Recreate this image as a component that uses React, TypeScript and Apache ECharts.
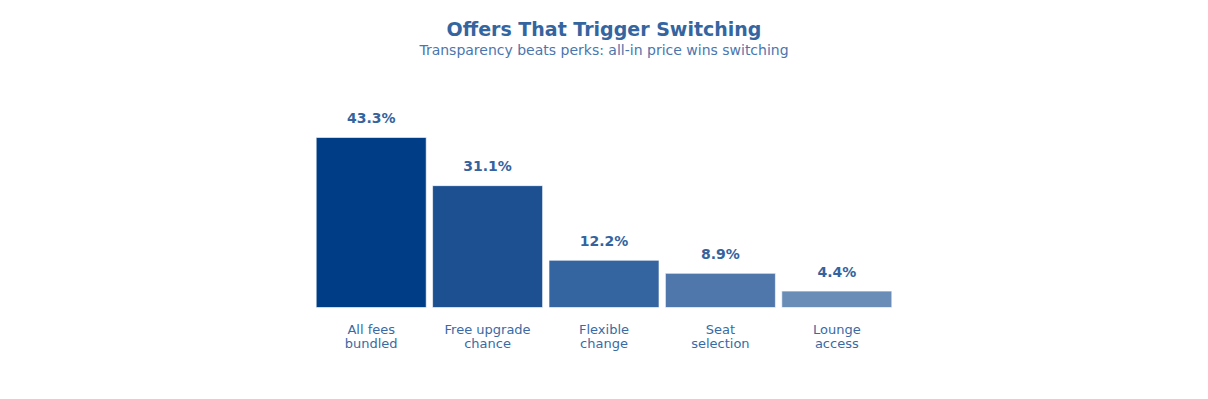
import React, { useEffect, useRef } from "react";
import * as echarts from "echarts";

const categories = [
  "All fees\nbundled",
  "Free upgrade\nchance",
  "Flexible\nchange",
  "Seat\nselection",
  "Lounge\naccess",
];
const shares = [43.3, 31.1, 12.2, 8.9, 4.4];
const barColors = ["#003d87", "#1c5091", "#3565a0", "#4f77ab", "#6a8db7"];

const FONT = "DejaVu Sans, Verdana, sans-serif";

export default function App() {
  const ref = useRef<HTMLDivElement>(null);

  useEffect(() => {
    if (!ref.current) return;
    const chart = echarts.init(ref.current, undefined, { renderer: "svg" });
    chart.setOption({
      animation: false,
      backgroundColor: "#ffffff",
      title: {
        text: "Offers That Trigger Switching",
        subtext: "Transparency beats perks: all-in price wins switching",
        left: "center",
        top: 14,
        itemGap: 5,
        textStyle: {
          fontFamily: FONT,
          fontSize: 19,
          fontWeight: "bold",
          color: "#35659f",
        },
        subtextStyle: {
          fontFamily: FONT,
          fontSize: 14,
          color: "#4a76ad",
        },
      },
      grid: { left: 313, right: 313, top: 110.5, bottom: 91 },
      xAxis: {
        type: "category",
        data: categories,
        axisLine: { show: false },
        axisTick: { show: false },
        axisLabel: {
          fontFamily: FONT,
          fontSize: 13,
          lineHeight: 14,
          color: "#3a6aa3",
          margin: 14,
          interval: 0,
        },
      },
      yAxis: {
        type: "value",
        min: 0,
        max: 50,
        show: false,
        splitLine: { show: false },
      },
      series: [
        {
          type: "bar",
          barWidth: 111,
          data: shares.map((v, i) => ({
            value: v,
            itemStyle: { color: barColors[i] },
          })),
          itemStyle: { borderColor: "rgba(255,255,255,0.6)", borderWidth: 1 },
          label: {
            show: true,
            position: "top",
            distance: 12,
            formatter: (p: any) => `${p.value.toFixed(1)}%`,
            fontFamily: FONT,
            fontSize: 14,
            fontWeight: "bold",
            color: "#34639e",
          },
        },
      ],
    });
    return () => chart.dispose();
  }, []);

  return <div ref={ref} style={{ width: 1208, height: 399, margin: -8 }} />;
}
